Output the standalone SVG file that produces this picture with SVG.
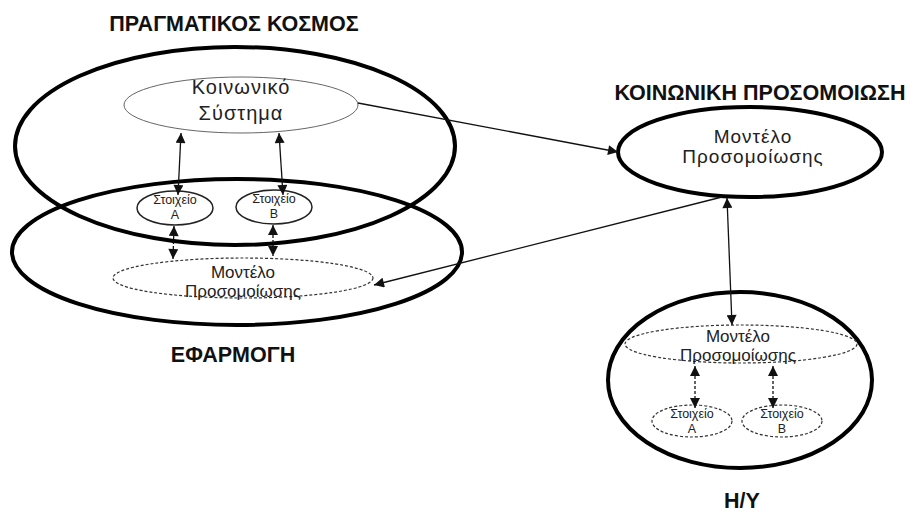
<svg xmlns="http://www.w3.org/2000/svg" width="916" height="514" viewBox="0 0 916 514">
  <defs>
    <marker id="head" viewBox="0 0 10 10" refX="10" refY="5" markerWidth="11" markerHeight="10" markerUnits="userSpaceOnUse" orient="auto-start-reverse">
      <path d="M0,0 L10,5 L0,10 z" fill="#111"/>
    </marker>
    <style>
      .title { font-family: "Liberation Sans", Arial, sans-serif; font-weight: bold; font-size: 21.5px; fill: #111; text-anchor: middle; }
      .lbl { font-family: "Liberation Sans", Arial, sans-serif; fill: #222; text-anchor: middle; }
      .el { font-size: 12.5px; }
      .big { fill: none; stroke: #000; stroke-width: 4; }
      .thin { fill: none; stroke: #222; stroke-width: 1.5; }
      .soft { fill: none; stroke: #666; stroke-width: 1; }
      .dash { fill: none; stroke: #333; stroke-width: 1.2; stroke-dasharray: 3 2; }
      .link { fill: none; stroke: #111; stroke-width: 1.3; }
      .dlink { fill: none; stroke: #111; stroke-width: 1.3; stroke-dasharray: 3 2; }
    </style>
  </defs>
  <rect width="916" height="514" fill="#fff"/>

  <!-- group titles -->
  <text class="title" x="234" y="31">ΠΡΑΓΜΑΤΙΚΟΣ ΚΟΣΜΟΣ</text>
  <text class="title" x="233" y="362">ΕΦΑΡΜΟΓΗ</text>
  <text class="title" x="760" y="100">ΚΟΙΝΩΝΙΚΗ ΠΡΟΣΟΜΟΙΩΣΗ</text>
  <text class="title" x="742" y="508">Η/Υ</text>

  <!-- real world, application and computer regions -->
  <g id="real-world">
    <ellipse class="big" cx="235" cy="146" rx="220" ry="99"/>
  </g>
  <g id="application">
    <ellipse class="big" cx="237" cy="252" rx="225" ry="73"/>
  </g>
  <g id="computer">
    <ellipse class="big" cx="740" cy="380" rx="132" ry="88"/>
  </g>

  <g id="social-system">
    <ellipse class="soft" cx="241" cy="105" rx="117" ry="28"/>
    <text class="lbl" x="241" y="94" font-size="20" letter-spacing="1">Κοινωνικό</text>
    <text class="lbl" x="241" y="120" font-size="20" letter-spacing="1">Σύστημα</text>
  </g>

  <g id="element-a">
    <ellipse class="thin" cx="175" cy="208" rx="38" ry="17"/>
    <text class="lbl el" x="175" y="204">Στοιχείο</text>
    <text class="lbl el" x="175" y="219">Α</text>
  </g>
  <g id="element-b">
    <ellipse class="thin" cx="274" cy="207" rx="38" ry="17"/>
    <text class="lbl el" x="274" y="203">Στοιχείο</text>
    <text class="lbl el" x="274" y="218">Β</text>
  </g>

  <g id="app-model">
    <ellipse class="dash" cx="243" cy="278" rx="130" ry="20"/>
    <text class="lbl" x="243" y="278" font-size="17">Μοντέλο</text>
    <text class="lbl" x="243" y="297" font-size="17">Προσομοίωσης</text>
  </g>

  <g id="sim-model">
    <ellipse class="big" cx="750" cy="152" rx="132" ry="45"/>
    <text class="lbl" x="753" y="143" font-size="19" letter-spacing="1">Μοντέλο</text>
    <text class="lbl" x="753" y="163" font-size="19" letter-spacing="1">Προσομοίωσης</text>
  </g>

  <g id="pc-model">
    <ellipse class="dash" cx="741" cy="344" rx="116" ry="19"/>
    <text class="lbl" x="738" y="342" font-size="17">Μοντέλο</text>
    <text class="lbl" x="738" y="361" font-size="17">Προσομοίωσης</text>
  </g>

  <g id="pc-element-a">
    <ellipse class="dash" cx="692" cy="421" rx="40" ry="16"/>
    <text class="lbl el" x="692" y="418">Στοιχείο</text>
    <text class="lbl el" x="692" y="433">Α</text>
  </g>
  <g id="pc-element-b">
    <ellipse class="dash" cx="782" cy="421" rx="40" ry="16"/>
    <text class="lbl el" x="782" y="418">Στοιχείο</text>
    <text class="lbl el" x="782" y="433">Β</text>
  </g>

  <!-- connectors -->
  <g id="connectors">
    <line class="link" x1="181" y1="133" x2="178" y2="195" marker-start="url(#head)" marker-end="url(#head)"/>
    <line class="link" x1="279" y1="133" x2="283" y2="195" marker-start="url(#head)" marker-end="url(#head)"/>
    <line class="dlink" x1="174" y1="226" x2="173" y2="259" marker-start="url(#head)" marker-end="url(#head)"/>
    <line class="dlink" x1="273" y1="225" x2="273" y2="256" marker-start="url(#head)" marker-end="url(#head)"/>
    <line class="link" x1="358" y1="103" x2="618" y2="152" marker-end="url(#head)"/>
    <line class="link" x1="722" y1="197" x2="374" y2="285" marker-end="url(#head)"/>
    <line class="link" x1="727" y1="198" x2="732" y2="325" marker-start="url(#head)" marker-end="url(#head)"/>
    <line class="dlink" x1="695" y1="366" x2="695" y2="408" marker-start="url(#head)" marker-end="url(#head)"/>
    <line class="dlink" x1="773" y1="366" x2="773" y2="408" marker-start="url(#head)" marker-end="url(#head)"/>
  </g>
</svg>
